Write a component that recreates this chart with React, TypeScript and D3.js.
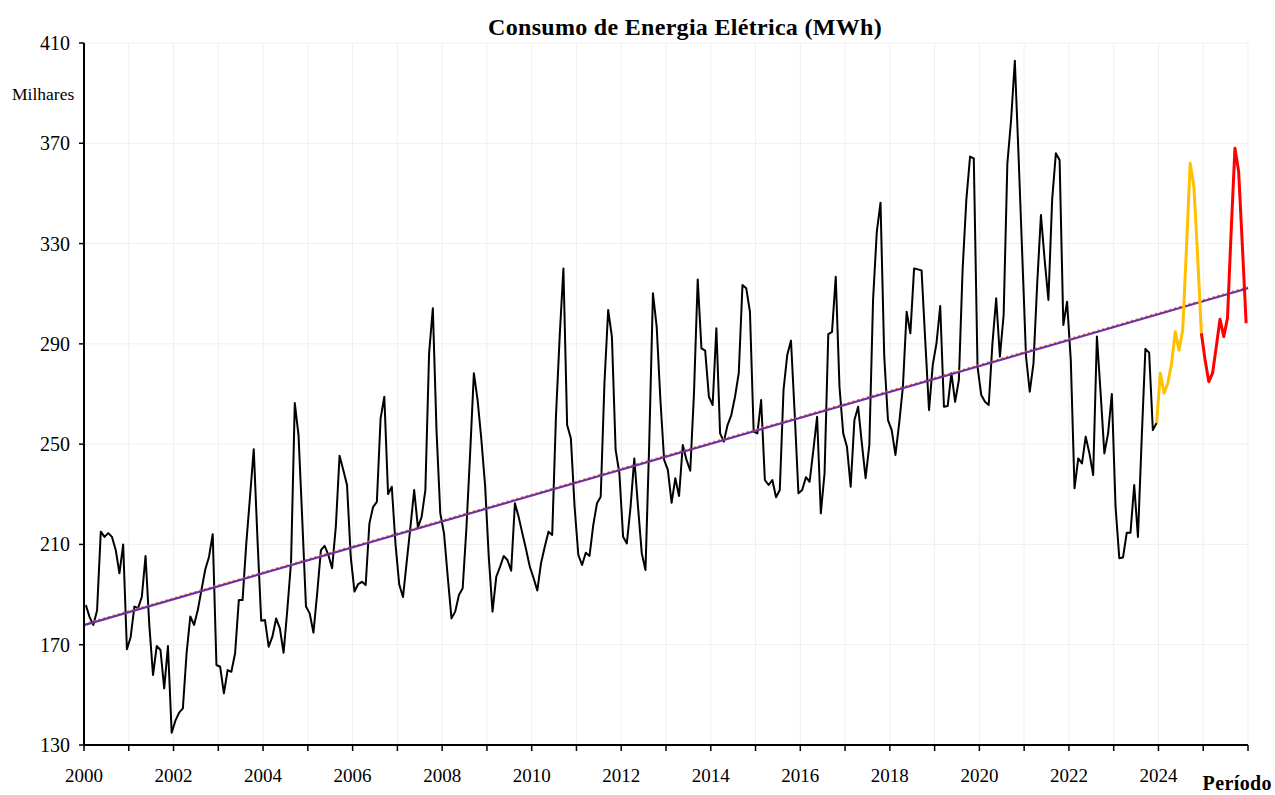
import React, { useEffect, useRef } from 'react';
import * as d3 from 'd3';

// monthly consumption, thousands of MWh, Jan 2000 .. Dec 2023
const historico = [
  185.8, 181, 177.9, 183.6, 215.1, 213, 214.5, 213, 207.8, 198.5, 210, 168.2,
  173, 185.2, 184.6, 189.1, 205.4, 178, 157.9, 169.5, 167.9, 152.6, 169.5, 134.9,
  139.7, 142.9, 144.6, 166.7, 181.3, 177.9, 183.8, 192, 200, 205, 214.1, 161.9,
  161.2, 150.6, 159.9, 159.2, 166.6, 187.8, 187.8, 210.4, 229, 248, 212, 179.6,
  179.9, 169.2, 173.2, 180.5, 176.5, 166.8, 184, 203, 266.4, 253.6, 220, 185.2,
  182.5, 174.8, 190.5, 207.7, 209.4, 205.8, 200.5, 217.1, 245.4, 239.7, 233.7, 205,
  191.2, 194.2, 195.1, 193.8, 218.4, 225, 227, 260.3, 268.9, 230.1, 233, 210,
  194, 189, 203, 217, 231.7, 216.8, 221, 231.7, 286.2, 304.2, 255, 222.4,
  214.4, 197, 180.5, 183.2, 189.8, 192.5, 216.4, 246.3, 278.3, 267.6, 252, 233.7,
  205, 183.2, 197.1, 201, 205.4, 203.8, 199.5, 226.4, 221, 214.4, 208, 201.1,
  196.6, 191.6, 202.5, 209.1, 215.1, 213.8, 260.9, 292.9, 320.1, 257.6, 252.3, 225,
  205.8, 201.8, 206.7, 205.4, 217.7, 226.4, 229, 274.3, 303.5, 292.9, 247.7, 238.4,
  213.1, 210.4, 225, 244.3, 225, 206.5, 199.8, 250.3, 310.2, 296.9, 267.6, 243.7,
  239.7, 226.6, 236.4, 229.3, 249.7, 243.7, 239.4, 270.3, 315.7, 288.2, 287.3, 268.9,
  265.6, 296.2, 254.3, 251, 257.6, 261.6, 268.9, 278.3, 313.5, 312.2, 302.8, 255,
  254.3, 267.6, 235.7, 233.7, 235.7, 228.8, 231.7, 271.6, 285.6, 291.3, 262, 230.4,
  231.7, 236.8, 235, 247.7, 260.9, 222.4, 238.4, 293.9, 294.8, 316.8, 272.9, 254.3,
  249, 233, 259.6, 264.9, 250.3, 236.4, 249.7, 307.5, 334.7, 346.3, 284.9, 259.6,
  255.6, 245.7, 258.3, 272.9, 302.8, 294.2, 320.1, 319.7, 319.3, 291, 263.6, 281.6,
  290.2, 305.1, 264.9, 265.2, 278.3, 266.9, 275.6, 319.5, 347.4, 364.7, 364, 280.9,
  269.6, 266.9, 265.6, 290.2, 308.2, 284.9, 301.5, 362, 379.3, 402.9, 365, 325,
  285, 270.9, 282.2, 314.1, 341.4, 323.4, 307.5, 347.4, 366, 363.3, 297.5, 306.8,
  283.6, 232.4, 244.3, 242.3, 253, 246.3, 237.7, 292.9, 270.3, 246.3, 254.3, 270,
  225, 204.5, 204.8, 214.7, 214.7, 233.7, 213, 252, 288, 286.5, 255.6, 258.4,
];
const ano2024 = [278.3, 270.3, 274.3, 282.2, 294.8, 287.5, 295.5, 328, 362, 352.7, 325, 294.2];
const ano2025 = [283.6, 274.9, 278.3, 288.9, 299.8, 292.9, 300.2, 335.4, 368, 358.7, 328.8, 298.2];

// linear trend, value at start of 2000 and at start of 2026
const tendencia = [177.8, 312.2];
const tendenciaAux = [178.2, 312.6];

const anoInicial = 2000;
const anoFinal = 2026;
const yTicks = [130, 170, 210, 250, 290, 330, 370, 410];

const W = 1275;
const H = 795;

const App = () => {
  const ref = useRef<SVGSVGElement>(null);

  useEffect(() => {
    const svg = d3.select(ref.current);
    svg.selectAll('*').remove();

    const left = 84;
    const right = 1248;
    const top = 43;
    const bottom = 745;
    const nMeses = (anoFinal - anoInicial) * 12;

    const x = d3.scaleLinear().domain([0, nMeses]).range([left, right]);
    const y = d3.scaleLinear().domain([130, 410]).range([bottom, top]);
    const font = '"Liberation Serif", "Times New Roman", serif';

    // grid
    const grid = svg.append('g');
    d3.range(0, nMeses + 1, 12).forEach((m) => {
      grid.append('line')
        .attr('x1', x(m)).attr('x2', x(m))
        .attr('y1', top).attr('y2', bottom)
        .attr('stroke', '#efefef').attr('stroke-width', 1);
    });
    yTicks.forEach((v) => {
      grid.append('line')
        .attr('x1', left).attr('x2', right)
        .attr('y1', y(v)).attr('y2', y(v))
        .attr('stroke', '#efefef').attr('stroke-width', 1);
    });

    // month index -> point at the middle of the month slot
    const line = d3.line<[number, number]>()
      .x((d) => x(d[0] + 0.5))
      .y((d) => y(d[1]));

    const serieHist: [number, number][] = historico.map((v, i) => [i, v]);
    const last = historico.length - 1;
    const serie24: [number, number][] = [[last, historico[last]]]
      .concat(ano2024.map((v, i) => [last + 1 + i, v])) as [number, number][];
    const l24 = last + ano2024.length;
    const serie25: [number, number][] = [[l24, ano2024[ano2024.length - 1]]]
      .concat(ano2025.map((v, i) => [l24 + 1 + i, v])) as [number, number][];

    svg.append('path').datum(serieHist)
      .attr('d', line).attr('fill', 'none')
      .attr('stroke', '#000').attr('stroke-width', 2).attr('stroke-linejoin', 'round');

    // trend lines
    svg.append('line')
      .attr('x1', x(0)).attr('x2', x(nMeses))
      .attr('y1', y(tendenciaAux[0])).attr('y2', y(tendenciaAux[1]))
      .attr('stroke', '#ED7D31').attr('stroke-width', 2).attr('stroke-dasharray', '2,3');
    svg.append('line')
      .attr('x1', x(0)).attr('x2', x(nMeses))
      .attr('y1', y(tendencia[0])).attr('y2', y(tendencia[1]))
      .attr('stroke', '#7030A0').attr('stroke-width', 2.2);

    svg.append('path').datum(serie24)
      .attr('d', line).attr('fill', 'none')
      .attr('stroke', '#FFC000').attr('stroke-width', 3).attr('stroke-linejoin', 'round');
    svg.append('path').datum(serie25)
      .attr('d', line).attr('fill', 'none')
      .attr('stroke', '#FF0000').attr('stroke-width', 3).attr('stroke-linejoin', 'round');

    // axes
    const axes = svg.append('g');
    axes.append('line')
      .attr('x1', left).attr('x2', left).attr('y1', top).attr('y2', bottom + 1)
      .attr('stroke', '#000').attr('stroke-width', 2);
    axes.append('line')
      .attr('x1', left - 1).attr('x2', right).attr('y1', bottom).attr('y2', bottom)
      .attr('stroke', '#000').attr('stroke-width', 2);

    yTicks.forEach((v) => {
      axes.append('line')
        .attr('x1', left - 5).attr('x2', left).attr('y1', y(v)).attr('y2', y(v))
        .attr('stroke', '#000').attr('stroke-width', 1.5);
      axes.append('text')
        .attr('x', 70).attr('y', y(v) + 7)
        .attr('text-anchor', 'end')
        .attr('font-family', font).attr('font-size', 20)
        .text(v);
    });

    d3.range(0, nMeses + 1, 12).forEach((m) => {
      axes.append('line')
        .attr('x1', x(m)).attr('x2', x(m)).attr('y1', bottom).attr('y2', bottom + 6)
        .attr('stroke', '#000').attr('stroke-width', 1.5);
      const ano = anoInicial + m / 12;
      if (ano % 2 === 0 && ano < anoFinal) {
        axes.append('text')
          .attr('x', x(m)).attr('y', 782)
          .attr('text-anchor', 'middle')
          .attr('font-family', font).attr('font-size', 19)
          .text(ano);
      }
    });

    svg.append('text')
      .attr('x', 685).attr('y', 35)
      .attr('text-anchor', 'middle')
      .attr('font-family', font).attr('font-size', 24).attr('font-weight', 'bold')
      .attr('letter-spacing', 0.3)
      .text('Consumo de Energia Elétrica (MWh)');

    svg.append('text')
      .attr('x', 12).attr('y', 100)
      .attr('font-family', font).attr('font-size', 17.5)
      .text('Milhares');

    svg.append('text')
      .attr('x', 1272).attr('y', 790)
      .attr('text-anchor', 'end')
      .attr('font-family', font).attr('font-size', 20).attr('font-weight', 'bold')
      .attr('letter-spacing', 0.4)
      .text('Período');
  }, []);

  return (
    <svg
      ref={ref}
      width={W}
      height={H}
      style={{ position: 'absolute', left: 0, top: 0, background: '#fff' }}
    />
  );
};

export default App;
